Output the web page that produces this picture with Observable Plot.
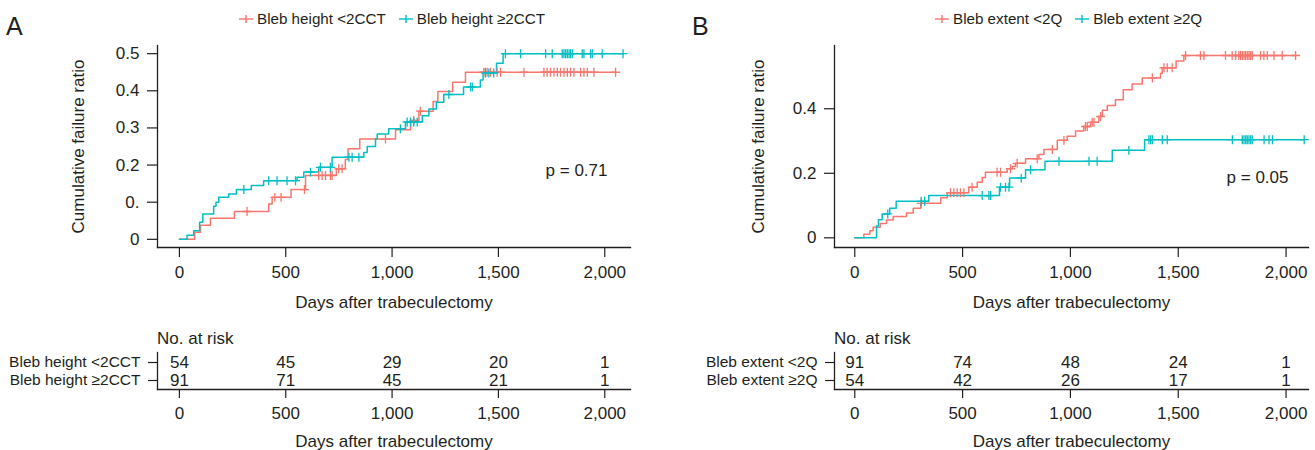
<!DOCTYPE html>
<html>
<head>
<meta charset="utf-8">
<script src="https://cdn.jsdelivr.net/npm/d3@7"></script>
<script src="https://cdn.jsdelivr.net/npm/@observablehq/plot@0.6"></script>
<style>
  body { margin: 0; background: #fff; }
  #root { position: relative; width: 1315px; height: 450px; overflow: hidden; font-family: "Liberation Sans", Arial, sans-serif; color: #231f20; }
  .abs { position: absolute; line-height: 1; white-space: nowrap; }
  .legend { display: flex; align-items: center; font-size: 15.2px; }
  .legend .item { display: flex; align-items: center; margin-right: 13px; }
  .legend svg { margin-right: 4px; }
</style>
</head>
<body>
<div id="root"></div>
<script>
// ---------- Data ----------
const xTicks = [0, 500, 1000, 1500, 2000];
const xTickLabels = ["0", "500", "1,000", "1,500", "2,000"];
const yTicksA = [0, 0.1, 0.2, 0.3, 0.4, 0.5];
const yTickLabelsA = ["0", "0.", "0.2", "0.3", "0.4", "0.5"];
const yTicksB = [0, 0.2, 0.4];
const yTickLabelsB = ["0", "0.2", "0.4"];

const groupsA = ["Bleb height <2CCT", "Bleb height ≥2CCT"];
const groupsB = ["Bleb extent <2Q", "Bleb extent ≥2Q"];
const colors = ["#F8766D", "#00BFC4"];

// Panel A: Bleb height <2CCT
const heightLowTimes = [0, 72, 99, 146, 259, 420, 436, 525, 593, 738, 780, 793, 848, 1016, 1087, 1126, 1193, 1215, 1285, 1345];
const heightLowRatio = [0, 0.019, 0.038, 0.057, 0.075, 0.095, 0.113, 0.134, 0.172, 0.19, 0.215, 0.244, 0.27, 0.295, 0.32, 0.345, 0.371, 0.398, 0.423, 0.45];
const heightLowCensored = [318, 449, 478, 588, 655, 671, 687, 710, 718, 749, 765, 969, 1102, 1133, 1431, 1439, 1447, 1463, 1494, 1510, 1620, 1714, 1729, 1745, 1761, 1777, 1792, 1808, 1824, 1839, 1855, 1886, 1902, 1918, 1949, 2051];

// Panel A: Bleb height ≥2CCT
const heightHighTimes = [0, 36, 67, 95, 110, 161, 172, 185, 232, 268, 338, 396, 553, 585, 655, 718, 867, 883, 922, 930, 984, 1063, 1142, 1173, 1208, 1243, 1336, 1415, 1428, 1491, 1522];
const heightHighRatio = [0, 0.011, 0.023, 0.046, 0.068, 0.089, 0.1, 0.113, 0.122, 0.134, 0.145, 0.158, 0.167, 0.181, 0.194, 0.221, 0.234, 0.25, 0.27, 0.284, 0.298, 0.316, 0.333, 0.351, 0.369, 0.39, 0.41, 0.429, 0.448, 0.474, 0.5];
const heightHighCensored = [303, 420, 459, 506, 546, 616, 663, 710, 797, 812, 844, 1039, 1071, 1087, 1102, 1118, 1267, 1369, 1377, 1439, 1455, 1478, 1533, 1604, 1722, 1753, 1800, 1808, 1816, 1824, 1832, 1839, 1847, 1894, 1902, 1933, 1941, 1988, 2086];

// Panel B: Bleb extent <2Q
const extentLowTimes = [0, 42, 70, 85, 118, 147, 178, 240, 271, 306, 399, 429, 529, 568, 591, 606, 707, 730, 745, 792, 854, 877, 939, 985, 1024, 1062, 1093, 1132, 1148, 1171, 1209, 1245, 1286, 1333, 1418, 1426, 1490, 1526];
const extentLowRatio = [0, 0.011, 0.022, 0.033, 0.044, 0.055, 0.066, 0.077, 0.092, 0.107, 0.124, 0.14, 0.157, 0.172, 0.187, 0.203, 0.214, 0.221, 0.231, 0.245, 0.258, 0.274, 0.302, 0.315, 0.331, 0.345, 0.358, 0.376, 0.395, 0.41, 0.428, 0.459, 0.477, 0.495, 0.51, 0.527, 0.548, 0.565];
const extentLowCensored = [308, 444, 459, 475, 490, 506, 544, 660, 676, 722, 753, 846, 916, 970, 1070, 1078, 1101, 1109, 1140, 1380, 1434, 1449, 1472, 1534, 1603, 1619, 1719, 1750, 1766, 1781, 1789, 1797, 1805, 1812, 1820, 1828, 1835, 1843, 1882, 1897, 1913, 1944, 1982, 2044];

// Panel B: Bleb extent ≥2Q
const extentHighTimes = [0, 101, 110, 127, 162, 192, 343, 671, 718, 792, 882, 1194, 1344];
const extentHighRatio = [0, 0.037, 0.056, 0.074, 0.092, 0.113, 0.131, 0.157, 0.185, 0.211, 0.237, 0.271, 0.304];
const extentHighCensored = [153, 308, 324, 591, 622, 630, 676, 699, 715, 772, 815, 947, 1086, 1124, 1271, 1364, 1372, 1380, 1426, 1449, 1751, 1797, 1805, 1813, 1820, 1828, 1836, 1843, 1898, 1921, 1937, 2084];

// Numbers at risk
const riskTimes = [0, 500, 1000, 1500, 2000];
const riskHeightLow = [54, 45, 29, 20, 1];
const riskHeightHigh = [91, 71, 45, 21, 1];
const riskExtentLow = [91, 74, 48, 24, 1];
const riskExtentHigh = [54, 42, 26, 17, 1];

const pValueA = "0.71";
const pValueB = "0.05";

// ---------- Helpers ----------
const FONT = '"Liberation Sans", Arial, sans-serif';
const INK = "#231f20";

function curveRows(group, times, ratio, censored) {
  const rows = times.map((t, i) => ({t, v: ratio[i], g: group}));
  const end = d3.max(censored);
  if (end > times[times.length - 1]) rows.push({t: end, v: ratio[ratio.length - 1], g: group});
  return rows;
}
function censorRows(group, times, ratio, censored) {
  return censored.map(t => ({t, v: ratio[d3.bisectRight(times, t) - 1], g: group}));
}
function riskRows(groups, counts) {
  return groups.flatMap((g, j) => riskTimes.map((t, i) => ({t, g, n: counts[j][i]})));
}
const fmtX = d => xTickLabels[xTicks.indexOf(d)];

function kmPlot(o) {
  const svg = Plot.plot({
    width: o.width, height: 320,
    marginLeft: o.marginLeft, marginRight: o.marginRight, marginTop: 45, marginBottom: 73,
    style: {fontFamily: FONT, fontSize: "17px", color: INK, background: "transparent", overflow: "visible"},
    x: {domain: o.xDomain},
    y: {domain: o.yDomain},
    color: {domain: o.groups, range: colors},
    marks: [
      Plot.axisX({ticks: xTicks, tickFormat: fmtX, tickSize: 10, tickPadding: 8, fontSize: 17, strokeWidth: 1.2,
        label: "Days after trabeculectomy", labelAnchor: "center", labelOffset: 60, labelArrow: "none"}),
      Plot.axisY({ticks: o.yTicks, tickFormat: d => o.yTickLabels[o.yTicks.indexOf(d)], tickSize: 10, tickPadding: 8, fontSize: 17, strokeWidth: 1.2,
        label: "Cumulative failure ratio", labelAnchor: "center", labelOffset: o.yLabelOffset, labelArrow: "none"}),
      Plot.frame({anchor: "left", strokeWidth: 1.3}),
      Plot.frame({anchor: "bottom", strokeWidth: 1.3}),
      Plot.line(o.curves, {x: "t", y: "v", z: "g", stroke: "g", curve: "step-after", strokeWidth: 1.5}),
      Plot.dot(o.censors, {x: "t", y: "v", stroke: "g", symbol: "plus", r: 3, strokeWidth: 1.3}),
      Plot.text([o.pValue], {text: d => "p = " + d, frameAnchor: "right", textAnchor: "end", dx: o.pdx, dy: o.pdy, fontSize: 17, fill: INK, ariaLabel: "p-value"})
    ]
  });
  d3.select(svg).selectAll('g[aria-label="p-value"] text').each(function () {
    const t = d3.select(this);
    t.text(null);
    t.append("tspan").attr("font-style", "italic").text("p");
    t.append("tspan").text(" = " + o.pValue);
  });
  return svg;
}

function riskPlot(o) {
  return Plot.plot({
    width: o.width, height: 120,
    marginLeft: o.marginLeft, marginRight: o.marginRight, marginTop: 22, marginBottom: 61,
    style: {fontFamily: FONT, fontSize: "17px", color: INK, background: "transparent", overflow: "visible"},
    x: {domain: o.xDomain},
    y: {type: "band", domain: o.groups, padding: 0},
    marks: [
      Plot.axisX({ticks: xTicks, tickFormat: fmtX, tickSize: 9, tickPadding: 8, fontSize: 17, strokeWidth: 1.2,
        label: "Days after trabeculectomy", labelAnchor: "center", labelOffset: 57, labelArrow: "none"}),
      Plot.axisY({tickSize: 9, tickPadding: 8, fontSize: 15.5, strokeWidth: 1.2, label: null}),
      Plot.frame({anchor: "left", strokeWidth: 1.3}),
      Plot.frame({anchor: "bottom", strokeWidth: 1.3}),
      Plot.text(o.rows, {x: "t", y: "g", text: "n", fontSize: 17, fill: INK})
    ]
  });
}

const root = document.getElementById("root");
function place(el, left, top) {
  el.style.position = "absolute";
  el.style.left = left + "px";
  el.style.top = top + "px";
  root.appendChild(el);
  return el;
}
function textDiv(txt, size, cls = "") {
  const d = document.createElement("div");
  d.className = "abs " + cls;
  d.style.fontSize = size + "px";
  d.textContent = txt;
  return d;
}
function legend(groups) {
  const d = document.createElement("div");
  d.className = "abs legend";
  groups.forEach((g, i) => {
    const item = document.createElement("div");
    item.className = "item";
    item.innerHTML = `<svg width="14" height="12" viewBox="0 0 14 12"><line x1="0" y1="6" x2="14" y2="6" stroke="${colors[i]}" stroke-width="1.4"/><line x1="7" y1="2" x2="7" y2="10" stroke="${colors[i]}" stroke-width="1.4"/></svg>`;
    const s = document.createElement("span");
    s.textContent = g;
    item.appendChild(s);
    d.appendChild(item);
  });
  return d;
}

// ---------- Panel A ----------
place(textDiv("A", 25), 6, 14);
place(legend(groupsA), 239, 11);
place(kmPlot({
  width: 655, marginLeft: 157, marginRight: 25,
  xDomain: [-103, 2121], yDomain: [-0.022, 0.522],
  yTicks: yTicksA, yTickLabels: yTickLabelsA, yLabelOffset: 86,
  groups: groupsA,
  curves: [...curveRows(groupsA[0], heightLowTimes, heightLowRatio, heightLowCensored),
           ...curveRows(groupsA[1], heightHighTimes, heightHighRatio, heightHighCensored)],
  censors: [...censorRows(groupsA[0], heightLowTimes, heightLowRatio, heightLowCensored),
            ...censorRows(groupsA[1], heightHighTimes, heightHighRatio, heightHighCensored)],
  pValue: pValueA, pdx: -23, pdy: 24
}), 0, 0);
place(textDiv("No. at risk", 17), 157, 329.6);
place(riskPlot({
  width: 655, marginLeft: 157, marginRight: 25, xDomain: [-103, 2121], groups: groupsA,
  rows: riskRows(groupsA, [riskHeightLow, riskHeightHigh])
}), 0, 330);

// ---------- Panel B ----------
place(textDiv("B", 25), 692, 14);
place(legend(groupsB), 935, 11);
place(kmPlot({
  width: 655, marginLeft: 174, marginRight: 7,
  xDomain: [-94, 2104], yDomain: [-0.030, 0.596],
  yTicks: yTicksB, yTickLabels: yTickLabelsB, yLabelOffset: 83,
  groups: groupsB,
  curves: [...curveRows(groupsB[0], extentLowTimes, extentLowRatio, extentLowCensored),
           ...curveRows(groupsB[1], extentHighTimes, extentHighRatio, extentHighCensored)],
  censors: [...censorRows(groupsB[0], extentLowTimes, extentLowRatio, extentLowCensored),
            ...censorRows(groupsB[1], extentHighTimes, extentHighRatio, extentHighCensored)],
  pValue: pValueB, pdx: -20, pdy: 31
}), 660, 0);
place(textDiv("No. at risk", 17), 834, 329.6);
place(riskPlot({
  width: 655, marginLeft: 174, marginRight: 7, xDomain: [-94, 2104], groups: groupsB,
  rows: riskRows(groupsB, [riskExtentLow, riskExtentHigh])
}), 660, 330);
</script>
</body>
</html>
